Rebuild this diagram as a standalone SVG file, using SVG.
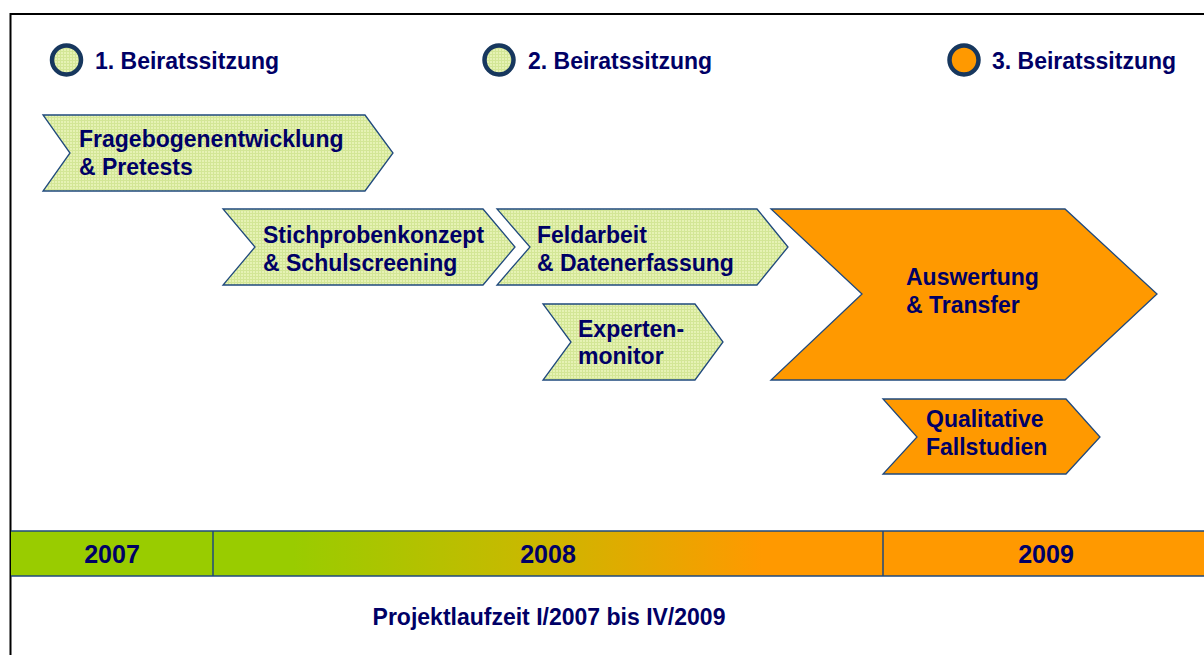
<svg xmlns="http://www.w3.org/2000/svg" width="1204" height="655" viewBox="0 0 1204 655">
  <defs>
    <!-- fine grid texture for the light green phases -->
    <pattern id="gridGreen" width="3" height="3" patternUnits="userSpaceOnUse">
      <rect width="3" height="3" fill="#E6F2B4"/>
      <path d="M0 0.5H3M0.5 0V3" stroke="#D3E696" stroke-width="1"/>
    </pattern>
    <linearGradient id="yearGrad" gradientUnits="userSpaceOnUse" x1="213" y1="0" x2="883" y2="0">
      <stop offset="0" stop-color="#99CC00"/>
      <stop offset="0.12" stop-color="#99CC00"/>
      <stop offset="0.45" stop-color="#C6BA00"/>
      <stop offset="0.82" stop-color="#FF9900"/>
      <stop offset="1" stop-color="#FF9900"/>
    </linearGradient>
    <style>
      .lbl { font-family: "Liberation Sans", Arial, sans-serif; font-weight: bold; font-size: 23px; fill: #000066; }
      .year { font-family: "Liberation Sans", Arial, sans-serif; font-weight: bold; font-size: 25px; fill: #000066; text-anchor: middle; }
      .foot { font-family: "Liberation Sans", Arial, sans-serif; font-weight: bold; font-size: 23px; fill: #000066; text-anchor: middle; }
      .chev-g { fill: url(#gridGreen); stroke: #1F497D; stroke-width: 1.3; }
      .chev-o { fill: #FF9900; stroke: #1F497D; stroke-width: 1.3; }
      .dot { stroke: #17375E; stroke-width: 4.5; }
      .bar { stroke: #1F497D; stroke-width: 1.5; }
    </style>
  </defs>

  <rect width="1204" height="655" fill="#FFFFFF"/>

  <!-- frame -->
  <path d="M10.5 655V14H1204" fill="none" stroke="#000000" stroke-width="2"/>

  <!-- advisory board meetings -->
  <g id="meeting1">
    <circle class="dot" cx="66.5" cy="60" r="14.5" fill="url(#gridGreen)"/>
    <text class="lbl" x="95" y="69">1. Beiratssitzung</text>
  </g>
  <g id="meeting2">
    <circle class="dot" cx="499" cy="60" r="14.5" fill="url(#gridGreen)"/>
    <text class="lbl" x="528" y="69">2. Beiratssitzung</text>
  </g>
  <g id="meeting3">
    <circle class="dot" cx="964" cy="60" r="14.5" fill="#FF9900"/>
    <text class="lbl" x="992" y="69">3. Beiratssitzung</text>
  </g>

  <!-- project phases -->
  <g id="phase-fragebogen">
    <polygon class="chev-g" points="43,115 365,115 393,153 365,191 43,191 70,153"/>
    <text class="lbl" x="79" y="147">Fragebogenentwicklung</text>
    <text class="lbl" x="79" y="175">&amp; Pretests</text>
  </g>
  <g id="phase-stichprobe">
    <polygon class="chev-g" points="223,209 483,209 515,247 483,285 223,285 255,247"/>
    <text class="lbl" x="263" y="243">Stichprobenkonzept</text>
    <text class="lbl" x="263" y="271">&amp; Schulscreening</text>
  </g>
  <g id="phase-feldarbeit">
    <polygon class="chev-g" points="497,209 757,209 788,247 757,285 497,285 530,247"/>
    <text class="lbl" x="537" y="243">Feldarbeit</text>
    <text class="lbl" x="537" y="271">&amp; Datenerfassung</text>
  </g>
  <g id="phase-expertenmonitor">
    <polygon class="chev-g" points="543,304 695,304 723,342 695,380 543,380 571,342"/>
    <text class="lbl" x="578" y="337">Experten-</text>
    <text class="lbl" x="578" y="364">monitor</text>
  </g>
  <g id="phase-auswertung">
    <polygon class="chev-o" points="771,209 1065,209 1157,294 1065,380 771,380 862,294"/>
    <text class="lbl" x="906" y="285">Auswertung</text>
    <text class="lbl" x="906" y="313">&amp; Transfer</text>
  </g>
  <g id="phase-fallstudien">
    <polygon class="chev-o" points="883,399 1066,399 1100,437 1066,474 883,474 917,437"/>
    <text class="lbl" x="926" y="427">Qualitative</text>
    <text class="lbl" x="926" y="455">Fallstudien</text>
  </g>

  <!-- timeline -->
  <g id="timeline">
    <rect x="11" y="531" width="202" height="45" fill="#99CC00"/>
    <rect x="213" y="531" width="670" height="45" fill="url(#yearGrad)"/>
    <rect x="883" y="531" width="321" height="45" fill="#FF9900"/>
    <path class="bar" d="M11 531H1204M11 576H1204M213 531V576M883 531V576" fill="none"/>
    <text class="year" x="112" y="563">2007</text>
    <text class="year" x="548" y="563">2008</text>
    <text class="year" x="1046" y="563">2009</text>
  </g>

  <g id="duration">
    <text class="foot" x="549" y="625">Projektlaufzeit I/2007 bis IV/2009</text>
  </g>
</svg>
